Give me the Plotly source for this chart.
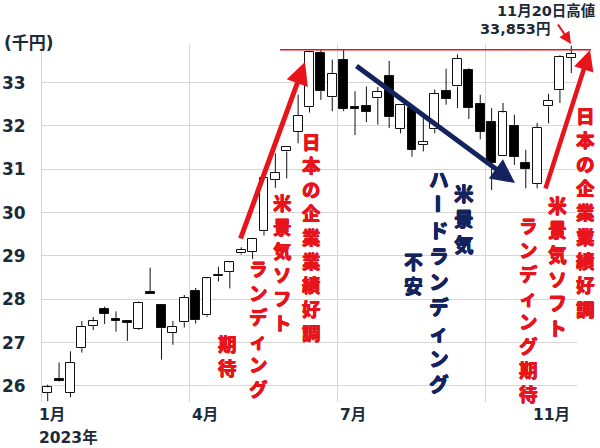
import plotly.graph_objects as go

# ---------------- data (thousand yen, weekly, 2023) ----------------
week_start = ["2023-01-02", "2023-01-09", "2023-01-16", "2023-01-23", "2023-01-30", "2023-02-06",
              "2023-02-13", "2023-02-20", "2023-02-27", "2023-03-06", "2023-03-13", "2023-03-20",
              "2023-03-27", "2023-04-03", "2023-04-10", "2023-04-17", "2023-04-24", "2023-05-01",
              "2023-05-08", "2023-05-15", "2023-05-22", "2023-05-29", "2023-06-05", "2023-06-12",
              "2023-06-19", "2023-06-26", "2023-07-03", "2023-07-10", "2023-07-17", "2023-07-24",
              "2023-07-31", "2023-08-07", "2023-08-14", "2023-08-21", "2023-08-28", "2023-09-04",
              "2023-09-11", "2023-09-18", "2023-09-25", "2023-10-02", "2023-10-09", "2023-10-16",
              "2023-10-23", "2023-10-30", "2023-11-06", "2023-11-13", "2023-11-20"]
week_index = list(range(len(week_start)))

opens = [25.84, 26.17, 25.84, 26.87, 27.38, 27.77, 27.54, 27.50, 27.31, 28.17,
         27.87, 27.23, 27.47, 28.20, 27.63, 28.53, 28.64, 29.06, 29.09, 29.57,
         30.75, 31.41, 31.87, 32.43, 33.69, 32.66, 33.53, 32.43, 32.47, 32.64,
         33.15, 31.93, 32.41, 31.56, 31.93, 32.80, 32.91, 33.30, 32.51, 32.10,
         31.31, 31.99, 31.14, 30.66, 32.45, 32.84, 33.57]
highs = [26.03, 26.54, 26.80, 27.50, 27.59, 27.83, 27.72, 27.52, 27.95, 28.73,
         27.88, 27.50, 28.10, 28.26, 28.50, 28.75, 28.86, 29.20, 29.42, 30.82,
         31.37, 31.53, 32.72, 33.73, 33.77, 33.53, 33.75, 32.80, 32.91, 32.90,
         33.50, 32.50, 32.47, 32.30, 32.84, 33.32, 33.65, 33.33, 32.72, 32.41,
         32.53, 32.26, 31.45, 32.07, 32.74, 33.63, 33.853]
lows = [25.65, 26.10, 25.74, 26.77, 27.29, 27.43, 27.25, 27.04, 27.29, 28.13,
        26.61, 26.95, 27.35, 27.44, 27.59, 28.41, 28.25, 29.03, 28.93, 29.47,
        30.57, 30.79, 31.60, 32.31, 32.60, 32.34, 32.34, 31.79, 32.09, 32.03,
        31.95, 31.83, 31.29, 31.41, 31.83, 32.49, 32.41, 32.16, 31.69, 30.52,
        31.31, 31.10, 30.56, 30.56, 32.06, 32.53, 33.22]
closes = [25.97, 26.12, 26.54, 27.36, 27.49, 27.67, 27.51, 27.46, 27.91, 28.13,
          27.33, 27.37, 28.04, 27.52, 28.48, 28.55, 28.85, 29.14, 29.40, 30.80,
          30.92, 31.52, 32.23, 33.70, 32.80, 33.20, 32.39, 32.40, 32.32, 32.78,
          32.20, 32.49, 31.45, 31.64, 32.74, 32.62, 33.55, 32.41, 31.87, 31.14,
          32.31, 31.28, 31.00, 31.95, 32.58, 33.60, 33.67]

y_ticks = [26, 27, 28, 29, 30, 31, 32, 33]
y_range = [25.63, 33.89]
x_range = [-0.5, 46.5]
quarter_grid = [-0.5, 12.5, 25.5, 38.5]           # 1月, 4月, 7月, 10月 boundaries
month_labels = ["1月", "4月", "7月", "11月"]
month_label_pos = [-0.5, 12.5, 25.5, 42.5]
year_label = "2023年"
unit_label = "(千円)"
high_level = 33.76                                 # level of the red horizontal line as drawn
high_text = ["11月20日高値", "33,853円"]

# ---------------- styling ----------------
W, H = 600, 448
L, R, T, B = 42, 23, 44, 46
PW, PH = W - L - R, H - T - B
RED = "#e8141c"
NAVY = "#14235e"
DARK = "#1b2a38"
GRID = "#d6d6d6"
FONT = "Verdana, 'DejaVu Sans', 'Noto Sans CJK JP', sans-serif"
JFONT = "'Noto Sans CJK JP', sans-serif"


def px(x):
    return (x - L) / PW


def py(y):
    return (H - B - y) / PH


def heavy(color, d=0.5):
    return ", ".join("%spx %spx 0 %s" % (a, b, color)
                     for a, b in ((d, 0), (-d, 0), (0, d), (0, -d)))


fig = go.Figure()

# candle bodies (bars with base) and wicks (lines), split by direction
for up in (True, False):
    idx = [i for i in week_index if (closes[i] >= opens[i]) == up]
    fig.add_trace(go.Bar(
        x=idx,
        y=[abs(closes[i] - opens[i]) for i in idx],
        base=[min(opens[i], closes[i]) for i in idx],
        width=0.78,
        marker=dict(color="white" if up else "black", line=dict(color="#111111", width=1)),
        hovertext=[week_start[i] for i in idx], hoverinfo="text",
        showlegend=False,
    ))

wx, wy = [], []
for i in week_index:
    top, bot = max(opens[i], closes[i]), min(opens[i], closes[i])
    wx += [i, i, None, i, i, None]
    wy += [highs[i], top, None, bot, lows[i], None]
fig.add_trace(go.Scatter(x=wx, y=wy, mode="lines", line=dict(color="#111111", width=1),
                         hoverinfo="skip", showlegend=False))

ann = []


def add_text(text, xc, yc, color, size, angle=0):
    ann.append(dict(
        text="<b>%s</b>" % text, x=px(xc), y=py(yc), xref="paper", yref="paper",
        xanchor="center", yanchor="middle", showarrow=False, borderpad=0, textangle=angle,
        font=dict(family=JFONT, size=size, color=color, shadow=heavy(color))))


def vcol(text, xc, y0, pitch, color):
    """vertical column: one character per line, first char centred at y0"""
    n = len(text)
    add_text("<br>".join(text), xc, y0 + (n - 1) * pitch / 2.0, color, pitch / 1.3)


# left red group
vcol("米景気ソフト", 282, 202, 24, RED)
vcol("ランディング", 258.5, 268, 24, RED)
vcol("期待", 227, 343, 24, RED)
# middle red
vcol("日本の企業業績好調", 312, 140.5, 23.9, RED)
# navy group
vcol("米景気", 464, 192.5, 25.5, NAVY)
hd = "ハードランディング"
p = 25.6
add_text(hd[0], 439, 178.5, NAVY, p / 1.3)
add_text(hd[1], 439, 178.5 + p, NAVY, p / 1.3, angle=90)
vcol(hd[2:], 439, 178.5 + 2 * p, p, NAVY)
vcol("不安", 413, 261, 24.5, NAVY)
# right red group
vcol("日本の企業業績好調", 585, 115, 24.2, RED)
vcol("米景気ソフト", 557, 205, 24.5, RED)
vcol("ランディング期待", 528.5, 225, 24, RED)


def arrow(x0, y0, x1, y1, color, width, size):
    ann.append(dict(x=px(x1), y=py(y1), xref="paper", yref="paper", ax=x0 - x1, ay=y0 - y1,
                    axref="pixel", ayref="pixel", text="", showarrow=True, arrowhead=2,
                    arrowsize=size, arrowwidth=width, arrowcolor=color, standoff=0))


arrow(240, 240, 305, 62, RED, 5, 0.9)
arrow(355, 65, 515, 183, NAVY, 5, 0.95)
arrow(545, 190, 590, 50, RED, 4.5, 0.9)
arrow(557, 23, 571, 44, RED, 2, 1.2)

# top-right labels
ann.append(dict(text="<b>%s</b>" % high_text[0], x=px(597), y=py(11), xref="paper", yref="paper",
                xanchor="right", yanchor="middle", showarrow=False,
                font=dict(family=FONT, size=14.5, color=DARK)))
ann.append(dict(text="<b>%s</b>" % high_text[1], x=px(552), y=py(29), xref="paper", yref="paper",
                xanchor="right", yanchor="middle", showarrow=False,
                font=dict(family=FONT, size=14.5, color=DARK)))

# unit label
ann.append(dict(text="<b>%s</b>" % unit_label, x=px(2), y=py(43.5), xref="paper", yref="paper",
                xanchor="left", yanchor="middle", showarrow=False,
                font=dict(family=FONT, size=17, color=DARK)))

# month labels
for lab, pos in zip(month_labels, month_label_pos):
    xp = (pos - x_range[0]) / (x_range[1] - x_range[0])
    ann.append(dict(text="<b>%s</b>" % lab, x=xp - (5 / PW if pos == x_range[0] else 0), y=py(415),
                    xref="paper", yref="paper", xanchor="left", yanchor="middle", showarrow=False,
                    font=dict(family=FONT, size=15.5, color=DARK)))
ann.append(dict(text="<b>%s</b>" % year_label, x=px(37), y=py(437), xref="paper", yref="paper",
                xanchor="left", yanchor="middle", showarrow=False,
                font=dict(family=FONT, size=15.5, color=DARK)))

# red high line (extends slightly beyond plot area)
hl = (high_level - y_range[0]) / (y_range[1] - y_range[0])
shapes = [dict(type="line", xref="paper", yref="paper", x0=px(280), x1=px(591), y0=hl, y1=hl,
               line=dict(color=RED, width=1.5), layer="above")]

fig.update_layout(
    width=W, height=H, margin=dict(l=L, r=R, t=T, b=B, autoexpand=False),
    paper_bgcolor="white", plot_bgcolor="white",
    barmode="overlay", bargap=0,
    annotations=ann, shapes=shapes,
    xaxis=dict(range=x_range, tickvals=quarter_grid, showticklabels=False, showgrid=True,
               gridcolor=GRID, gridwidth=1, zeroline=False, ticks="", fixedrange=True),
    yaxis=dict(range=y_range, tickvals=y_ticks, showgrid=True, gridcolor=GRID, gridwidth=1,
               zeroline=False, showline=True, linecolor=GRID, linewidth=1, ticks="",
               ticklabelstandoff=12,
               tickfont=dict(family=FONT, size=17, color=DARK, weight="bold"), fixedrange=True),
    showlegend=False,
)

fig.write_html("out.html", config={"displayModeBar": False},
               post_script="document.body.style.margin='0';")
